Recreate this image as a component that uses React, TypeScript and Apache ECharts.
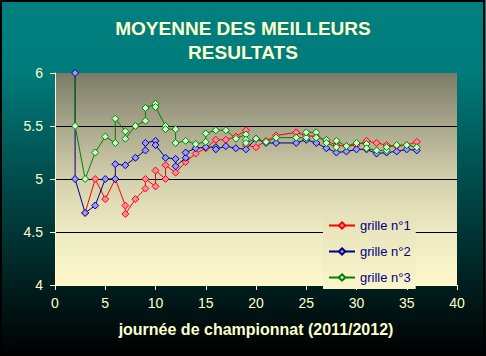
import React, { useEffect, useRef } from "react";
import * as echarts from "echarts";

const seriesNames = ["grille n°1", "grille n°2", "grille n°3"];

const grille1: number[][] = [
  [3, 4.68], [4, 5.0], [5, 4.81], [6, 5.0], [7, 4.75], [7, 4.67], [8, 4.81], [9, 4.91], [9, 5.0],
  [10, 4.93], [10, 5.08], [11, 5.0], [11, 5.13], [12, 5.06], [13, 5.16], [14, 5.24], [15, 5.29],
  [16, 5.37], [17, 5.37], [18, 5.4], [19, 5.46], [19, 5.32], [20, 5.3], [21, 5.36], [22, 5.41],
  [24, 5.44], [25, 5.41], [26, 5.4], [27, 5.36], [28, 5.32], [29, 5.31], [30, 5.32], [31, 5.36],
  [32, 5.34], [33, 5.32], [34, 5.31], [35, 5.32], [36, 5.35],
];

const grille2: number[][] = [
  [2, 6.0], [2, 5.0], [3, 4.68], [4, 4.75], [5, 5.0], [6, 5.0], [6, 5.14], [7, 5.13], [8, 5.2],
  [9, 5.27], [9, 5.34], [10, 5.36], [10, 5.32], [11, 5.2], [12, 5.19], [12, 5.12], [13, 5.2],
  [13, 5.25], [14, 5.29], [15, 5.3], [16, 5.3], [16, 5.28], [17, 5.31], [18, 5.29], [19, 5.28],
  [20, 5.38], [21, 5.34], [22, 5.34], [24, 5.34], [25, 5.37], [26, 5.34], [27, 5.29], [28, 5.25],
  [29, 5.26], [30, 5.28], [31, 5.28], [32, 5.24], [33, 5.25], [34, 5.26], [35, 5.28], [36, 5.27],
];

// first point (2, 6) only carries the line, its marker is hidden
const grille3: number[][] = [
  [2, 6.0], [2, 5.5], [3, 5.0], [4, 5.25], [5, 5.4], [6, 5.34], [6, 5.57], [7, 5.45], [7, 5.38],
  [8, 5.5], [9, 5.55], [9, 5.67], [10, 5.71], [10, 5.68], [11, 5.5], [11, 5.47], [12, 5.47],
  [12, 5.34], [13, 5.36], [14, 5.33], [15, 5.35], [15, 5.43], [16, 5.46], [17, 5.46], [18, 5.38],
  [19, 5.42], [19, 5.37], [19, 5.34], [20, 5.38], [21, 5.35], [22, 5.39], [24, 5.39], [25, 5.39],
  [25, 5.44], [26, 5.44], [26, 5.39], [27, 5.37], [27, 5.34], [28, 5.3], [28, 5.36], [29, 5.31],
  [30, 5.34], [31, 5.33], [31, 5.29], [32, 5.27], [33, 5.27], [33, 5.3], [34, 5.32], [35, 5.32],
  [36, 5.3],
];

const yTicks = [4, 4.5, 5, 5.5, 6];
const xTicks = [0, 5, 10, 15, 20, 25, 30, 35, 40];

const plotStops: [number, string][] = [
  [0, "#7c7b67"],
  [0.25, "#a9a78b"],
  [0.5, "#d3d0ad"],
  [0.75, "#eeeac1"],
  [1, "#fdf8cc"],
];

function hexToRgb(h: string) {
  return [1, 3, 5].map((i) => parseInt(h.slice(i, i + 2), 16));
}
function colorAt(f: number) {
  for (let i = 0; i < plotStops.length - 1; i++) {
    const [a, ca] = plotStops[i];
    const [b, cb] = plotStops[i + 1];
    if (f >= a && f <= b) {
      const t = (f - a) / (b - a);
      const A = hexToRgb(ca);
      const B = hexToRgb(cb);
      const c = A.map((v, k) => Math.round(v + (B[k] - v) * t));
      return `rgb(${c[0]},${c[1]},${c[2]})`;
    }
  }
  return plotStops[plotStops.length - 1][1];
}

export default function App() {
  const ref = useRef<HTMLDivElement>(null);
  useEffect(() => {
    if (!ref.current) return;
    const chart = echarts.init(ref.current, undefined, { renderer: "svg" });
    const gridTop = 73;
    const gridBottomY = 285;
    const legendTop = 214;
    const legendH = 60;
    const fTop = (legendTop - gridTop) / (gridBottomY - gridTop);
    const fBot = (legendTop + legendH - gridTop) / (gridBottomY - gridTop);
    const cream = "#FFFFCC";
    const font = "'Liberation Sans', Arial, sans-serif";

    const mk = (name: string, data: any[], line: string, fill: string) => ({
      name,
      type: "line",
      data,
      symbol: "diamond",
      symbolSize: 7,
      lineStyle: { color: line, width: 1 },
      itemStyle: { color: fill, borderColor: line, borderWidth: 1 },
      emphasis: { disabled: true },
    });

    chart.setOption({
      animation: false,
      backgroundColor: new echarts.graphic.LinearGradient(0, 0, 0, 1, [
        { offset: 0, color: "#008080" },
        { offset: 0.2, color: "#007b7b" },
        { offset: 1, color: "#000000" },
      ]),
      title: {
        text: "MOYENNE DES MEILLEURS\nRESULTATS",
        left: "center",
        top: 16,
        padding: 0,
        textStyle: {
          color: cream,
          fontSize: 19,
          fontWeight: "bold",
          lineHeight: 24,
          fontFamily: font,
        },
      },
      legend: {
        orient: "vertical",
        left: 323,
        top: legendTop,
        padding: 5,
        itemWidth: 26,
        itemHeight: 8,
        itemGap: 13,
        backgroundColor: new echarts.graphic.LinearGradient(0, 0, 0, 1, [
          { offset: 0, color: colorAt(fTop) },
          { offset: 1, color: colorAt(Math.min(1, fBot)) },
        ]),
        textStyle: { color: "#000080", fontSize: 13, fontFamily: font },
        data: seriesNames,
      },
      grid: {
        left: 55,
        top: gridTop,
        right: 29,
        bottom: 356 - gridBottomY,
        show: true,
        borderWidth: 0,
        backgroundColor: new echarts.graphic.LinearGradient(
          0, 0, 0, 1,
          plotStops.map(([o, c]) => ({ offset: o, color: c }))
        ),
      },
      xAxis: {
        type: "value",
        min: xTicks[0],
        max: xTicks[xTicks.length - 1],
        interval: 5,
        name: "journée de championnat (2011/2012)",
        nameLocation: "middle",
        nameGap: 36,
        nameTextStyle: { color: cream, fontSize: 16, fontWeight: "bold", fontFamily: font },
        axisLine: { show: true, lineStyle: { color: cream, width: 1 } },
        axisTick: { show: true, length: 5, lineStyle: { color: cream } },
        axisLabel: { color: cream, fontSize: 14, margin: 11, fontFamily: font },
        splitLine: { show: false },
      },
      yAxis: {
        type: "value",
        min: yTicks[0],
        max: yTicks[yTicks.length - 1],
        interval: 0.5,
        axisLine: { show: true, lineStyle: { color: cream, width: 1 } },
        axisTick: { show: true, length: 5, lineStyle: { color: cream } },
        axisLabel: { color: cream, fontSize: 14, margin: 12, fontFamily: font },
        splitLine: {
          show: true,
          lineStyle: {
            color: ["rgba(0,0,0,0)", "#000", "#000", "#000", "rgba(0,0,0,0)"],
            width: 1,
          },
        },
      },
      series: [
        mk(seriesNames[0], grille1, "#FF0000", "#FF88AA"),
        mk(seriesNames[1], grille2, "#000080", "#9999FF"),
        mk(
          seriesNames[2],
          grille3.map((p, i) => (i === 0 ? { value: p, symbol: "none" } : p)),
          "#008000",
          "#CCFFCC"
        ),
      ],
      graphic: [
        {
          type: "rect",
          silent: true,
          shape: { x: 1, y: 1, width: 483, height: 353 },
          style: { fill: "none", stroke: "#000", lineWidth: 2 },
          z: 100,
        },
      ],
    });
    return () => chart.dispose();
  }, []);
  return (
    <div
      ref={ref}
      style={{ position: "fixed", left: 0, top: 0, width: 486, height: 356 }}
    />
  );
}
